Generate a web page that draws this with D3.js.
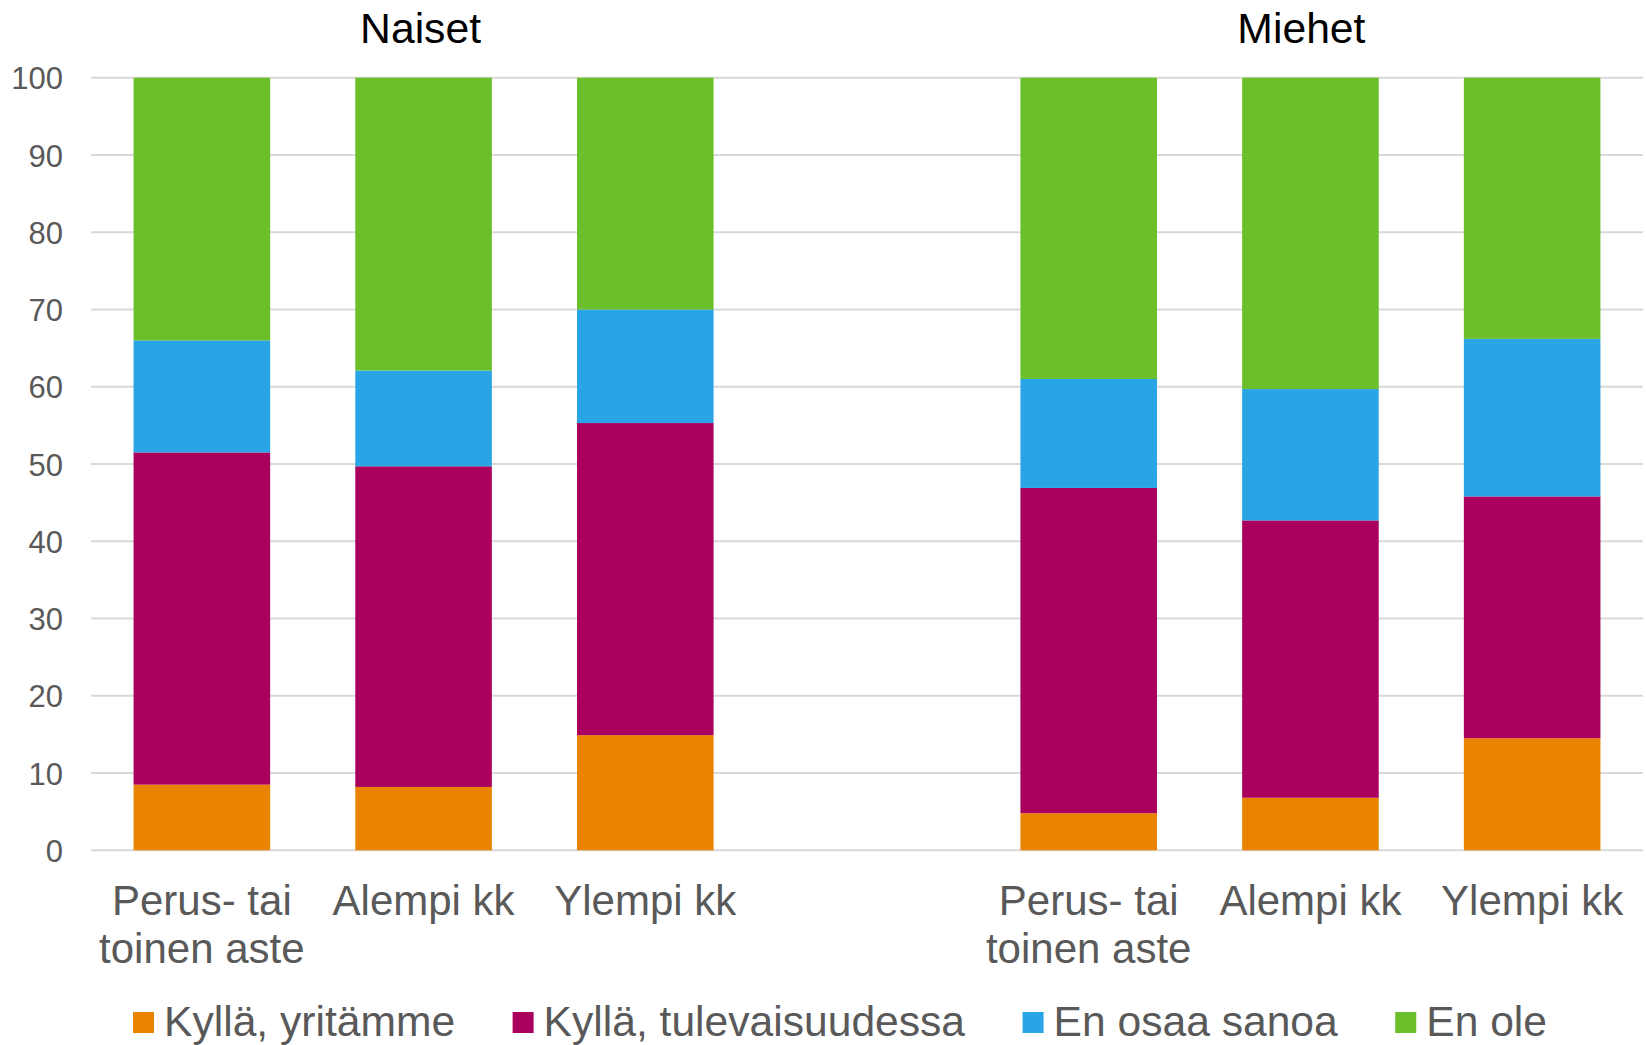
<!DOCTYPE html>
<html>
<head>
<meta charset="utf-8">
<script src="https://cdn.jsdelivr.net/npm/d3@7"></script>
<style>
  body { margin: 0; background: #fff; }
  svg text { font-family: "Liberation Sans", Arial, sans-serif; }
</style>
</head>
<body>
<div class="chart-container"></div>
<script>
// groups and education levels
const groups = ["Naiset", "Miehet"];
const levels = [["Perus- tai", "toinen aste"], ["Alempi kk"], ["Ylempi kk"]];

// series values, order: Naiset x3, Miehet x3
const kyllaYritamme = [8.5, 8.2, 14.9, 4.8, 6.8, 14.5];
const kyllaTulevaisuudessa = [43.0, 41.5, 40.4, 42.1, 35.9, 31.3];
const enOsaaSanoa = [14.5, 12.4, 14.7, 14.1, 17.0, 20.4];
const enOle = [34.0, 37.9, 30.0, 39.0, 40.3, 33.8];

const seriesNames = ["Kyllä, yritämme", "Kyllä, tulevaisuudessa", "En osaa sanoa", "En ole"];
const colors = ["#E98300", "#AA005E", "#29A5E5", "#6ABF2A"];
const yTicks = [0, 10, 20, 30, 40, 50, 60, 70, 80, 90, 100];

// canvas
const w = 1646;
const h = 1045;
const plotLeft = 91;
const plotRight = 1643;
const plotTop = 77.7;
const plotBottom = 850.3;

const svg = d3
  .select(".chart-container")
  .append("svg")
  .attr("width", w)
  .attr("height", h);

// slots: 3 bars, an empty slot, 3 bars
const slots = ["N0", "N1", "N2", "gap", "M0", "M1", "M2"];
const barSlots = ["N0", "N1", "N2", "M0", "M1", "M2"];

const rows = barSlots.map((s, i) => ({
  slot: s,
  s0: kyllaYritamme[i],
  s1: kyllaTulevaisuudessa[i],
  s2: enOsaaSanoa[i],
  s3: enOle[i],
}));

const xScale = d3
  .scaleBand()
  .domain(slots)
  .range([plotLeft, plotRight])
  .paddingInner(0.384)
  .paddingOuter(0.192);

const yScale = d3.scaleLinear().domain([0, 100]).range([plotBottom, plotTop]);

// gridlines
svg
  .append("g")
  .selectAll("line")
  .data(yTicks)
  .enter()
  .append("line")
  .attr("x1", plotLeft)
  .attr("x2", plotRight)
  .attr("y1", (d) => yScale(d))
  .attr("y2", (d) => yScale(d))
  .attr("stroke", "#D9D9D9")
  .attr("stroke-width", 2);

// y axis labels
const yAxis = d3.axisLeft(yScale).tickValues(yTicks).tickSize(0).tickPadding(0);
const yg = svg
  .append("g")
  .attr("transform", "translate(63,0)")
  .call(yAxis);
yg.select(".domain").remove();
yg.selectAll("text")
  .attr("fill", "#595959")
  .style("font-size", "31px")
  .style("font-family", "'Liberation Sans', Arial, sans-serif")
  .attr("dy", "0.36em");

// stacked bars
const stack = d3.stack().keys(["s0", "s1", "s2", "s3"]);
const stacked = stack(rows);

svg
  .append("g")
  .selectAll("g")
  .data(stacked)
  .enter()
  .append("g")
  .attr("fill", (d, i) => colors[i])
  .selectAll("rect")
  .data((d) => d)
  .enter()
  .append("rect")
  .attr("x", (d) => xScale(d.data.slot))
  .attr("width", xScale.bandwidth())
  .attr("y", (d) => yScale(Math.min(d[1], 100)))
  .attr("height", (d) => yScale(d[0]) - yScale(Math.min(d[1], 100)));

// category labels
const labelG = svg.append("g").attr("fill", "#595959").style("font-size", "42px");
barSlots.forEach((s, i) => {
  const lines = levels[i % 3];
  const cx = xScale(s) + xScale.bandwidth() / 2;
  lines.forEach((line, j) => {
    labelG
      .append("text")
      .attr("x", cx)
      .attr("y", 915 + j * 48)
      .attr("text-anchor", "middle")
      .text(line);
  });
});

// group titles (sit a little left of the group centre, as in the original)
const titleShift = [3, 9];
groups.forEach((g, i) => {
  const first = xScale(barSlots[i * 3]);
  const last = xScale(barSlots[i * 3 + 2]) + xScale.bandwidth();
  svg
    .append("text")
    .attr("x", (first + last) / 2 - titleShift[i])
    .attr("y", 43)
    .attr("text-anchor", "middle")
    .attr("fill", "#000")
    .style("font-size", "42.7px")
    .text(g);
});

// legend
const legend = svg.append("g");
let lx = 133;
seriesNames.forEach((name, i) => {
  legend
    .append("rect")
    .attr("x", lx)
    .attr("y", 1012)
    .attr("width", 21)
    .attr("height", 21)
    .attr("fill", colors[i]);
  const t = legend
    .append("text")
    .attr("x", lx + 31)
    .attr("y", 1036)
    .attr("fill", "#595959")
    .style("font-size", "42.6px")
    .text(name);
  lx += 31 + t.node().getComputedTextLength() + 57.5;
});
</script>
</body>
</html>
